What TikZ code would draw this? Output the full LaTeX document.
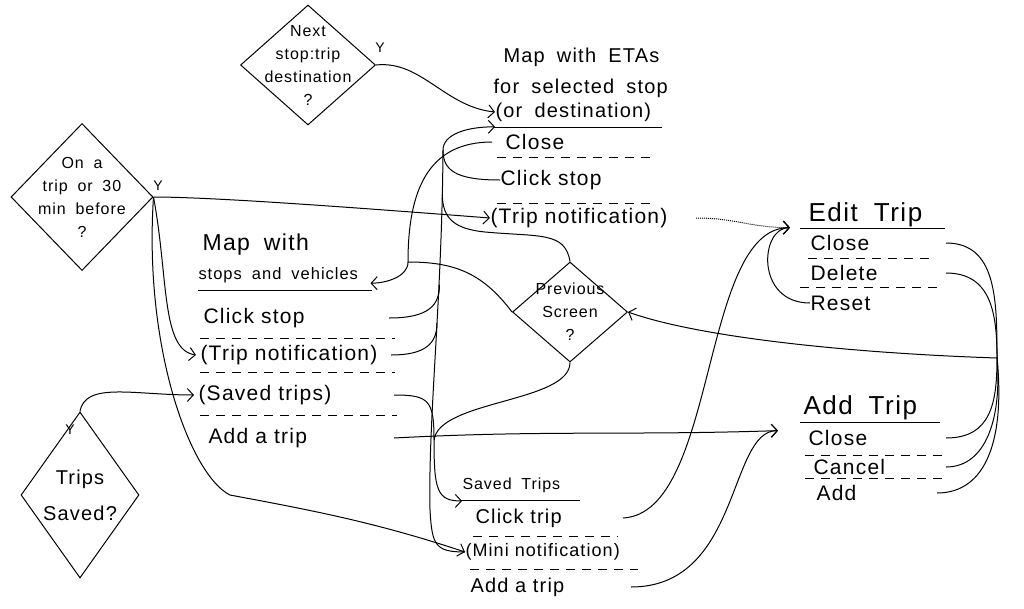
\documentclass[tikz,border=0pt]{standalone}
\usepackage{fontspec}
\setmainfont{Liberation Sans}[LetterSpace=6,WordSpace=1.8]
\usetikzlibrary{arrows.meta,shapes.geometric}

\begin{document}
\begin{tikzpicture}[x=1pt,y=-1pt,line width=1pt]
  \tikzstyle{decision}=[diamond,draw,inner sep=-16pt,align=center,font=\fontsize{16}{23}\selectfont]
  \tikzstyle{screentitle}=[anchor=west,inner sep=0pt,font=\fontsize{20}{24}\selectfont]
  \tikzstyle{item}=[anchor=west,inner sep=0pt,align=left,font=\fontsize{21}{24}\selectfont]
  \tikzstyle{yes}=[inner sep=1pt,font=\fontsize{14}{16}\selectfont]
  \tikzstyle{divider}=[dash pattern=on 9pt off 7pt]
  \tikzstyle{flow}=[-{Straight Barb[length=6pt,width=13pt]}]
  \useasboundingbox (0,0) rectangle (1024,608);

  \node [decision,minimum width=135pt,minimum height=120pt] (nextstop) at (308,65) {Next\\stop:trip\\destination\\?};
  \node [decision,minimum width=142pt,minimum height=147pt] (ontrip) at (82,197) {On a\\trip or 30\\min before\\?};
  \node [decision,minimum width=118pt,minimum height=166pt,font=\fontsize{20}{36}\selectfont] (tripssaved) at (80,495) {Trips\\Saved?};
  \node [decision,minimum width=115pt,minimum height=100pt] (prevscreen) at (570,312) {Previous\\Screen\\?};
  \node [yes] (ynext) at (380,48) {Y};
  \node [yes] (yontrip) at (158,186) {Y};
  \node [yes] (ysaved) at (70,430) {Y};

  \node [screentitle] (eta1) at (503,57) {Map with ETAs};
  \node [screentitle] (eta2) at (493,88) {for selected stop};
  \node [screentitle] (eta3) at (495,112) {(or destination)};
  \node [item,text width=190pt] (etaclose) at (505,142) {Close};
  \node [item,text width=195pt] (etaclick) at (500,180) {Click stop};
  \node [item,text width=205pt] (etanotif) at (490,218) {(Trip notification)};
  \draw (493,127) -- (662,127);
  \draw [divider] (497,157) -- (652,157);
  \draw [divider] (497,203) -- (650,203);

  \node [screentitle,font=\fontsize{23}{26}\selectfont] (map1) at (202,245) {Map with};
  \node [screentitle,font=\fontsize{16.5}{20}\selectfont] (mapsub) at (198,275) {stops and vehicles};
  \node [item,text width=185pt] (mapclick) at (203,318) {Click stop};
  \node [item,text width=190pt] (mapnotif) at (200,355) {(Trip notification)};
  \node [item,text width=195pt] (mapsaved) at (198,395) {(Saved trips)};
  \node [item,text width=185pt] (mapadd) at (208,438) {Add a trip};
  \draw (198,290) -- (372,290);
  \draw [divider] (200,338) -- (395,338);
  \draw [divider] (200,372) -- (395,372);
  \draw [divider] (200,415) -- (397,415);

  \node [screentitle,font=\fontsize{16}{20}\selectfont] (sttitle) at (462,485) {Saved Trips};
  \node [item,text width=147pt,font=\fontsize{20}{24}\selectfont] (stclick) at (475,518) {Click trip};
  \node [item,text width=172pt,font=\fontsize{18}{22}\selectfont] (stmini) at (465,552) {(Mini notification)};
  \node [item,text width=160pt,font=\fontsize{20}{24}\selectfont] (stadd) at (470,587) {Add a trip};
  \draw (460,500) -- (580,500);
  \draw [divider] (473,536) -- (618,536);
  \draw [divider] (470,569) -- (638,569);

  \node [screentitle,font=\fontsize{26}{30}\selectfont] (etitle) at (808,215) {Edit Trip};
  \node [item,text width=135pt] (eclose) at (810,243) {Close};
  \node [item,text width=135pt] (edelete) at (810,273) {Delete};
  \node [item,text width=130pt] (ereset) at (810,303) {Reset};
  \draw (800,228) -- (945,228);
  \draw [divider] (808,258) -- (935,258);
  \draw [divider] (800,287) -- (940,287);

  \node [screentitle,font=\fontsize{26}{30}\selectfont] (atitle) at (803,408) {Add Trip};
  \node [item,text width=137pt] (aclose) at (808,438) {Close};
  \node [item,text width=132pt] (acancel) at (813,467) {Cancel};
  \node [item,text width=120pt] (aadd) at (816,493) {Add};
  \draw (800,422) -- (940,422);
  \draw [divider] (805,455) -- (945,455);
  \draw [divider] (805,478) -- (945,478);

  \coordinate (mapin) at (408,262);
  \coordinate (spinetop) at (443,150);
  \coordinate (spinebot) at (430,510);
  \coordinate (spineA) at (439.5,285);
  \coordinate (spineB) at (437,323);
  \coordinate (spineC) at (442.3,194);
  \coordinate (savedin) at (434,440);
  \coordinate (backjoin) at (997,358);

  \draw [flow] (nextstop.east) .. controls +(45,-5) and +(-50,-5) .. (eta3.west);
  \draw [flow] (ontrip.east) .. controls +(60,0) and +(-130,-10) .. (etanotif.west);
  \draw [flow] (ontrip.east) .. controls +(15,80) and +(-35,-5) .. ([xshift=-4pt]mapnotif.west);
  \draw [flow] (ontrip.east) .. controls +(-10,150) and +(-40,-20) .. (230,495) .. controls +(80,15) and +(-90,-30) .. (stmini.west);
  \draw [flow] (tripssaved.north) .. controls +(5,-30) and +(-60,0) .. ([xshift=-4pt]mapsaved.west);

  \draw ([xshift=-13pt]etaclose.west) .. controls +(-65,0) and +(0,-70) .. (mapin);
  \draw (prevscreen.west) .. controls +(-30,-40) and +(45,0) .. (mapin);
  \draw [flow] (mapin) .. controls +(0,15) and +(15,0) .. ([xshift=12pt]mapsub.south east);

  \draw [flow] (spinetop) .. controls +(0,-15) and +(-30,0) .. ([yshift=-5pt]eta3.south west);
  \draw (spinetop) .. controls (442,300) and (428,420) .. (spinebot) .. controls +(2,35) and +(-30,0) .. (stmini.west);
  \draw (etaclick.west) .. controls +(-45,0) and +(0,20) .. (spinetop);
  \draw (mapclick.east) .. controls +(40,0) and +(0,20) .. (spineA);
  \draw (mapnotif.east) .. controls +(35,0) and +(0,20) .. (spineB);
  \draw (prevscreen.north) .. controls +(-5,-30) and +(55,5) .. (485,232) .. controls +(-30,-3) and +(0,25) .. (spineC);

  \draw (mapsaved.east) .. controls +(35,0) and +(0,-40) .. (savedin);
  \draw (prevscreen.south) .. controls +(0,40) and +(5,-40) .. (savedin);
  \draw [flow] (savedin) .. controls +(0,50) and +(-25,0) .. ([yshift=-8pt]sttitle.south west);

  \draw [flow] (mapadd.east) .. controls +(150,-8) and +(-150,5) .. ([xshift=-25pt,yshift=-10pt]atitle.south west);
  \draw [flow] (stadd.east) .. controls +(110,0) and +(-50,0) .. ([xshift=-25pt,yshift=-10pt]atitle.south west);

  \draw [flow,densely dotted] (etanotif.east) .. controls +(40,0) and +(-40,0) .. ([xshift=-18pt]etitle.south west);
  \draw [flow] (stclick.east) .. controls +(95,-5) and +(-90,0) .. ([xshift=-18pt]etitle.south west);
  \draw [flow] (ereset.west) .. controls +(-55,0) and +(-30,0) .. ([xshift=-18pt]etitle.south west);

  \draw (eclose.east) .. controls +(50,0) and +(0,-60) .. (backjoin);
  \draw (edelete.east) .. controls +(45,0) and +(0,-45) .. (backjoin);
  \draw (aclose.east) .. controls +(45,0) and +(0,45) .. (backjoin);
  \draw (acancel.east) .. controls +(40,0) and +(5,60) .. (backjoin);
  \draw (aadd.east) .. controls +(50,0) and +(8,80) .. (backjoin);
  \draw [flow] (backjoin) .. controls +(-150,-5) and +(70,25) .. (prevscreen.east);
\end{tikzpicture}
\end{document}
